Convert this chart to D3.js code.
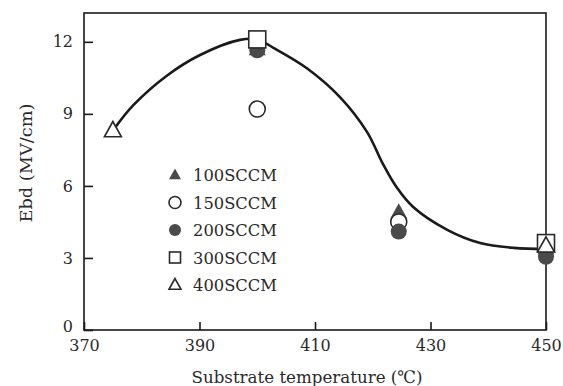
<!DOCTYPE html>
<html>
<head>
<meta charset="utf-8">
<script src="https://cdn.jsdelivr.net/npm/d3@7"></script>
<style>
  html, body { margin: 0; padding: 0; background: #fff; }
</style>
</head>
<body>
<svg id="chart" width="563" height="386"></svg>
<script>
// Breakdown field vs. substrate temperature for several gas flow rates
const xTicks = [370, 390, 410, 430, 450];
const yTicks = [0, 3, 6, 9, 12];

// Fitted trend curve (temperature, Ebd)
const curveTemp = [375, 378.5, 384.4, 390.1, 397, 400, 402.8, 408.6, 414.4, 419, 421.8, 424.2, 427, 432.9, 438.6, 444.4, 450];
const curveEbd  = [8.3, 9.35, 10.6, 11.45, 12.08, 12.1, 11.75, 10.9, 9.68, 8.25, 6.9, 5.92, 5.12, 4.17, 3.62, 3.42, 3.38];

// Measured points per flow rate
const seriesNames = ["100SCCM", "150SCCM", "200SCCM", "300SCCM", "400SCCM"];
const temp100 = [400, 424.5, 450];  const ebd100 = [11.7, 4.9, 3.4];
const temp150 = [400, 424.5];       const ebd150 = [9.2, 4.5];
const temp200 = [400, 424.5, 450];  const ebd200 = [11.65, 4.1, 3.05];
const temp300 = [400, 450];         const ebd300 = [12.1, 3.62];
const temp400 = [375, 450];         const ebd400 = [8.3, 3.5];

const markerStyle = {
  "100SCCM": { shape: "triangle", filled: true },
  "150SCCM": { shape: "circle",   filled: false },
  "200SCCM": { shape: "circle",   filled: true },
  "300SCCM": { shape: "square",   filled: false },
  "400SCCM": { shape: "triangle", filled: false }
};
const seriesData = {
  "100SCCM": d3.zip(temp100, ebd100),
  "150SCCM": d3.zip(temp150, ebd150),
  "200SCCM": d3.zip(temp200, ebd200),
  "300SCCM": d3.zip(temp300, ebd300),
  "400SCCM": d3.zip(temp400, ebd400)
};
// stacking order for overlapping markers
const drawOrder = ["100SCCM", "150SCCM", "200SCCM", "300SCCM", "400SCCM"];

const serif = "'DejaVu Serif', 'Liberation Serif', serif";
const textInk = "#2a2a2a";

const svg = d3.select("#chart");
const plotLeft = 84, plotRight = 546, plotTop = 13, plotBottom = 330;

const x = d3.scaleLinear().domain([370, 450]).range([plotLeft, plotRight]);
const y = d3.scaleLinear().domain([0, 13.2]).range([plotBottom, plotTop]);

const ink = "#1a1a1a";
const fillDark = "#4a4a4a";

// frame
svg.append("rect")
  .attr("x", plotLeft).attr("y", plotTop)
  .attr("width", plotRight - plotLeft).attr("height", plotBottom - plotTop)
  .attr("fill", "none").attr("stroke", ink).attr("stroke-width", 1.6);

// y axis (inward ticks)
const yAxis = svg.append("g")
  .attr("transform", `translate(${plotLeft},0)`)
  .call(d3.axisLeft(y).tickValues(yTicks).tickSize(-9).tickPadding(11).tickFormat(d3.format("d")));
yAxis.attr("font-family", serif).attr("font-size", 16);
yAxis.select(".domain").remove();
yAxis.selectAll(".tick line").attr("stroke", ink).attr("stroke-width", 1.6);
yAxis.selectAll(".tick text").attr("fill", textInk);
// lift the zero label a little so it clears the first x label
yAxis.selectAll(".tick").filter(d => d === 0).select("text").attr("dy", "0.1em");

// x axis (inward ticks)
const xAxis = svg.append("g")
  .attr("transform", `translate(0,${plotBottom})`)
  .call(d3.axisBottom(x).tickValues(xTicks).tickSize(-8).tickPadding(10).tickFormat(d3.format("d")));
xAxis.attr("font-family", serif).attr("font-size", 16);
xAxis.select(".domain").remove();
xAxis.selectAll(".tick line").attr("stroke", ink).attr("stroke-width", 1.6);
xAxis.selectAll(".tick text").attr("fill", textInk);

// axis titles
svg.append("text")
  .attr("x", 307).attr("y", 383)
  .attr("text-anchor", "middle")
  .attr("font-family", serif).attr("font-size", 17).attr("fill", textInk)
  .attr("textLength", 231).attr("lengthAdjust", "spacingAndGlyphs")
  .text("Substrate temperature (℃)");

svg.append("text")
  .attr("transform", "translate(32,163) rotate(-90)")
  .attr("text-anchor", "middle")
  .attr("font-family", serif).attr("font-size", 17).attr("fill", textInk)
  .attr("textLength", 119).attr("lengthAdjust", "spacingAndGlyphs")
  .text("Ebd (MV/cm)");

// trend curve
const line = d3.line()
  .x(d => x(d[0])).y(d => y(d[1]))
  .curve(d3.curveCatmullRom.alpha(0.5));
svg.append("path")
  .datum(d3.zip(curveTemp, curveEbd))
  .attr("d", line)
  .attr("fill", "none")
  .attr("stroke", ink)
  .attr("stroke-width", 2.6);

// marker drawing helper
function drawMarker(g, shape, filled, size) {
  const sw = filled ? 0 : 1.6;
  const fill = filled ? fillDark : "#fff";
  const stroke = filled ? "none" : "#2a2a2a";
  if (shape === "circle") {
    g.append("circle").attr("r", size / 2)
      .attr("fill", fill).attr("stroke", stroke).attr("stroke-width", sw);
  } else if (shape === "square") {
    g.append("rect").attr("x", -size / 2).attr("y", -size / 2)
      .attr("width", size).attr("height", size)
      .attr("fill", fill).attr("stroke", stroke).attr("stroke-width", sw);
  } else {
    const h = size * 0.9, w = size;
    g.append("path")
      .attr("d", `M0,${-h * 0.6}L${w / 2},${h * 0.4}L${-w / 2},${h * 0.4}Z`)
      .attr("fill", fill).attr("stroke", stroke).attr("stroke-width", sw)
      .attr("stroke-linejoin", "miter");
  }
}

// data markers
drawOrder.forEach(name => {
  const st = markerStyle[name];
  seriesData[name].forEach(d => {
    const g = svg.append("g").attr("transform", `translate(${x(d[0])},${y(d[1])})`);
    drawMarker(g, st.shape, st.filled, st.shape === "circle" ? 16 : 17);
  });
});

// legend
const legend = svg.append("g").attr("transform", "translate(175,175)");
seriesNames.forEach((name, i) => {
  const row = legend.append("g").attr("transform", `translate(0,${i * 27.5})`);
  const st = markerStyle[name];
  drawMarker(row, st.shape, st.filled, st.shape === "square" ? 11 : 12);
  row.append("text")
    .attr("x", 18).attr("y", 0).attr("dy", "0.36em")
    .attr("font-family", serif).attr("font-size", 17).attr("fill", textInk)
    .attr("textLength", 84).attr("lengthAdjust", "spacingAndGlyphs")
    .text(name);
});
</script>
</body>
</html>
